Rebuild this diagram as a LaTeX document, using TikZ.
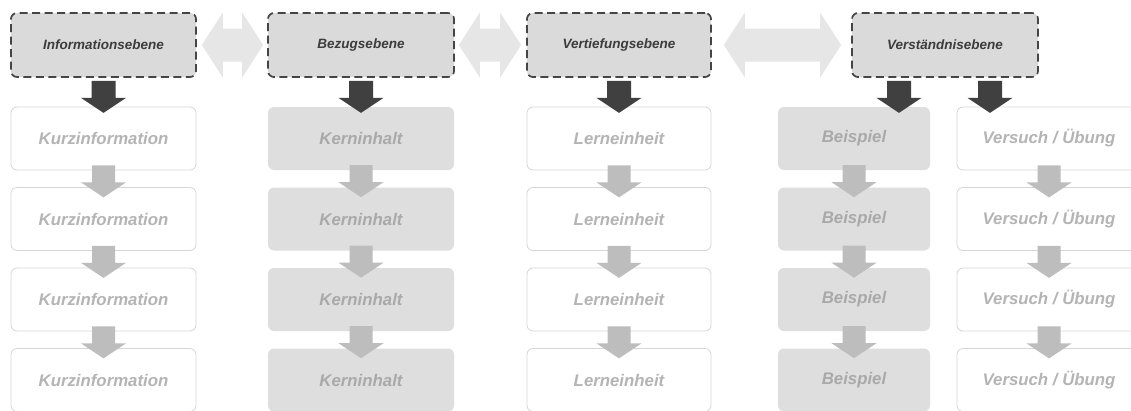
\documentclass[tikz,border=0pt]{standalone}
\usepackage{fontspec}
\setmainfont{Liberation Sans}
\usetikzlibrary{calc}

\definecolor{headfill}{HTML}{DADADA}
\definecolor{headline}{HTML}{454545}
\definecolor{headtext}{HTML}{3C3C3C}
\definecolor{twowayfill}{HTML}{E6E6E6}
\definecolor{darkarrow}{HTML}{404040}
\definecolor{lightarrow}{HTML}{BDBDBD}
\definecolor{boxline}{HTML}{D6D6D6}
\definecolor{boxfill}{HTML}{DEDEDE}
\definecolor{paletext}{HTML}{B4B4B4}
\definecolor{greytext}{HTML}{A9A9A9}

% two-headed horizontal arrow between two tip points
\newcommand\twowayarrow[2]{%
  \fill[twoway] let \p1=(#1), \p2=(#2) in
    (\p1) -- (\x1+21pt,\y1+32.5pt) -- (\x1+21pt,\y1+16.5pt)
    -- (\x2-21pt,\y2+16.5pt) -- (\x2-21pt,\y2+32.5pt) -- (\p2)
    -- (\x2-21pt,\y2-32.5pt) -- (\x2-21pt,\y2-16.5pt)
    -- (\x1+21pt,\y1-16.5pt) -- (\x1+21pt,\y1-32.5pt) -- cycle;}

\tikzset{
  headbox/.style={draw=headline, fill=headfill, line width=1.7pt,
    dash pattern=on 8pt off 4.5pt, rounded corners=6pt,
    minimum width=185pt, minimum height=64pt, inner sep=0pt,
    text=headtext, font=\fontsize{13.5}{16}\selectfont\bfseries\itshape},
  plainbox/.style={draw=boxline, fill=white, line width=0.8pt,
    rounded corners=6pt, minimum height=63pt, inner sep=0pt,
    text=paletext, font=\fontsize{16.8}{20}\selectfont\bfseries\itshape},
  greybox/.style={fill=boxfill, rounded corners=6pt,
    minimum height=63pt, inner sep=0pt,
    text=greytext, font=\fontsize{16.8}{20}\selectfont\bfseries\itshape},
  twoway/.style={fill=twowayfill},
  darkdown/.pic={\fill[darkarrow] (-12,0) -- (12,0) -- (12,17) -- (22.5,17)
    -- (0,32) -- (-22.5,17) -- (-12,17) -- cycle;},
  lightdown/.pic={\fill[lightarrow] (-11.5,0) -- (11.5,0) -- (11.5,17) -- (22.5,17)
    -- (0,32) -- (-22.5,17) -- (-11.5,17) -- cycle;}
}

\begin{document}
\begin{tikzpicture}[x=1pt, y=-1pt]
  \useasboundingbox (0,0) rectangle (1131,410);
  \fill[white] (0,0) rectangle (1131,410);
  \clip (0,0) rectangle (1131,410);

  % level headers
  \node[headbox] (h1) at (103.5,45) {Informationsebene};
  \node[headbox, minimum width=186pt] (h2) at (361,45) {Bezugsebene};
  \node[headbox, minimum width=184pt] (h3) at (619,45) {Vertiefungsebene};
  \node[headbox, minimum width=186pt] (h4) at (945,45) {Verständnisebene};

  % links between the levels
  \coordinate (l1a) at ([xshift=5pt]h1.east);
  \coordinate (l1b) at ([xshift=-4pt]h2.west);
  \coordinate (l2a) at ([xshift=4pt]h2.east);
  \coordinate (l2b) at ([xshift=-5pt]h3.west);
  \coordinate (l3a) at ([xshift=12pt]h3.east);
  \coordinate (l3b) at ([xshift=-10pt]h4.west);
  \twowayarrow{l1a}{l1b}
  \twowayarrow{l2a}{l2b}
  \twowayarrow{l3a}{l3b}

  % content columns
  \foreach \r/\y in {1/138.5, 2/219, 3/299.5, 4/380} {
    \node[plainbox, minimum width=185pt] (a\r) at (103.5,\y) {Kurzinformation};
    \node[greybox, minimum width=186pt] (b\r) at (361,\y) {Kerninhalt};
    \node[plainbox, minimum width=184pt] (c\r) at (619,\y) {Lerneinheit};
    \node[greybox, minimum width=152pt] (d\r) at (854,\y) {Beispiel};
    \node[plainbox, minimum width=184pt] (e\r) at (1049,\y) {Versuch / Übung};
  }

  % arrows from the headers into the columns
  \pic at ([yshift=-3pt]h1.south) {darkdown};
  \pic at ([yshift=-3pt]h2.south) {darkdown};
  \pic at ([yshift=-3pt]h3.south) {darkdown};
  \pic at ([xshift=-46pt,yshift=-3pt]h4.south) {darkdown};
  \pic at ([xshift=45pt,yshift=-3pt]h4.south) {darkdown};

  % arrows down each column
  \foreach \c in {a,b,c,d,e} {
    \foreach \r in {1,2,3} {
      \pic at ([yshift=5pt]\c\r.south) {lightdown};
    }
  }
\end{tikzpicture}
\end{document}
